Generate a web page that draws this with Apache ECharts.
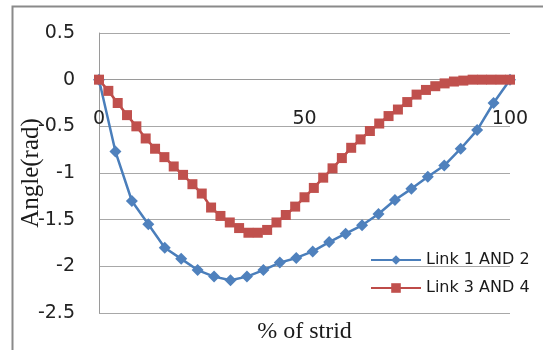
<!DOCTYPE html>
<html>
<head>
<meta charset="utf-8">
<script src="https://cdn.jsdelivr.net/npm/echarts@6/dist/echarts.min.js"></script>
<style>
html,body{margin:0;padding:0;background:#fff;}
#c{width:543px;height:350px;}
</style>
</head>
<body>
<div id="c"></div>
<script>
var seriesNames = ["Link 1 AND 2", "Link 3 AND 4"];
var xTicks = [0, 50, 100];
var yTicks = [0.5, 0, -0.5, -1, -1.5, -2, -2.5];

var link12X = [0, 4, 8, 12, 16, 20, 24, 28, 32, 36, 40, 44, 48, 52, 56, 60, 64, 68, 72, 76, 80, 84, 88, 92, 96, 100];
var link12Y = [0, -0.77, -1.30, -1.55, -1.80, -1.92, -2.04, -2.11, -2.15, -2.11, -2.04, -1.96, -1.91, -1.84, -1.74, -1.65, -1.56, -1.44, -1.29, -1.17, -1.04, -0.92, -0.74, -0.54, -0.25, 0];

var link34X = [0, 2.27, 4.55, 6.82, 9.09, 11.36, 13.64, 15.91, 18.18, 20.45, 22.73, 25, 27.27, 29.55, 31.82, 34.09, 36.36, 38.64, 40.91, 43.18, 45.45, 47.73, 50, 52.27, 54.55, 56.82, 59.09, 61.36, 63.64, 65.91, 68.18, 70.45, 72.73, 75, 77.27, 79.55, 81.82, 84.09, 86.36, 88.64, 90.91, 93.18, 95.45, 97.73, 100];
var link34Y = [0, -0.12, -0.25, -0.38, -0.50, -0.63, -0.74, -0.83, -0.93, -1.02, -1.12, -1.22, -1.37, -1.46, -1.53, -1.59, -1.64, -1.64, -1.61, -1.53, -1.45, -1.36, -1.26, -1.16, -1.05, -0.95, -0.84, -0.73, -0.64, -0.55, -0.47, -0.39, -0.32, -0.24, -0.16, -0.11, -0.07, -0.04, -0.02, -0.01, 0, 0, 0, 0, 0];

function pairs(xs, ys) { return xs.map(function (x, i) { return [x, ys[i]]; }); }

var gridTop = 33, gridHeight = 280;
var yMin = yTicks[yTicks.length - 1], yMax = yTicks[0];
// distance from grid bottom to the y = 0 line, so the x axis sits on zero
var zeroOffset = gridHeight * (0 - yMin) / (yMax - yMin);

var chart = echarts.init(document.getElementById('c'), null, {renderer: 'canvas'});
chart.setOption({
  animation: false,
  backgroundColor: '#ffffff',
  graphic: [{
    type: 'rect', left: 10, top: 4, shape: {width: 600, height: 400},
    style: {fill: 'none', stroke: '#8a8a8a', lineWidth: 2}, silent: true, z: -1
  }],
  grid: {left: 99, top: gridTop, width: 411, height: gridHeight, containLabel: false, outerBoundsMode: 'none'},
  legend: {
    orient: 'vertical', left: 370, top: 252, padding: 0,
    itemWidth: 50, itemHeight: 12, itemGap: 12,
    textStyle: {fontFamily: 'DejaVu Sans', fontSize: 16, color: '#1a1a1a'},
    data: seriesNames
  },
  xAxis: {
    type: 'value', min: xTicks[0], max: xTicks[xTicks.length - 1], interval: 50,
    position: 'bottom', offset: -zeroOffset,
    name: '% of strid', nameLocation: 'middle', nameGap: 240, nameMoveOverlap: false,
    nameTextStyle: {fontFamily: 'Liberation Serif', fontSize: 24, color: '#1a1a1a'},
    axisLine: {show: true, onZero: false, lineStyle: {color: '#9a9a9a', width: 1}},
    axisTick: {show: false},
    axisLabel: {margin: 30, fontFamily: 'DejaVu Sans', fontSize: 19, color: '#222'},
    splitLine: {show: false}
  },
  yAxis: {
    type: 'value', min: yMin, max: yMax, interval: 0.5,
    name: 'Angle(rad)', nameLocation: 'middle', nameGap: 55, nameMoveOverlap: false,
    nameTextStyle: {fontFamily: 'Liberation Serif', fontSize: 25, color: '#1a1a1a'},
    axisLine: {show: true, onZero: false, lineStyle: {color: '#9a9a9a', width: 1}},
    axisTick: {show: false},
    axisLabel: {margin: 24, fontFamily: 'DejaVu Sans', fontSize: 19, color: '#222'},
    splitLine: {show: true, lineStyle: {color: '#a8a8a8', width: 1}}
  },
  series: [{
    name: seriesNames[0], type: 'line', data: pairs(link12X, link12Y),
    symbol: 'diamond', symbolSize: 12,
    lineStyle: {color: '#4a7ebb', width: 2.5},
    itemStyle: {color: '#4f81bd'}
  }, {
    name: seriesNames[1], type: 'line', data: pairs(link34X, link34Y),
    symbol: 'rect', symbolSize: 10,
    lineStyle: {color: '#be4b48', width: 2.5},
    itemStyle: {color: '#c0504d'}
  }]
});
</script>
</body>
</html>
